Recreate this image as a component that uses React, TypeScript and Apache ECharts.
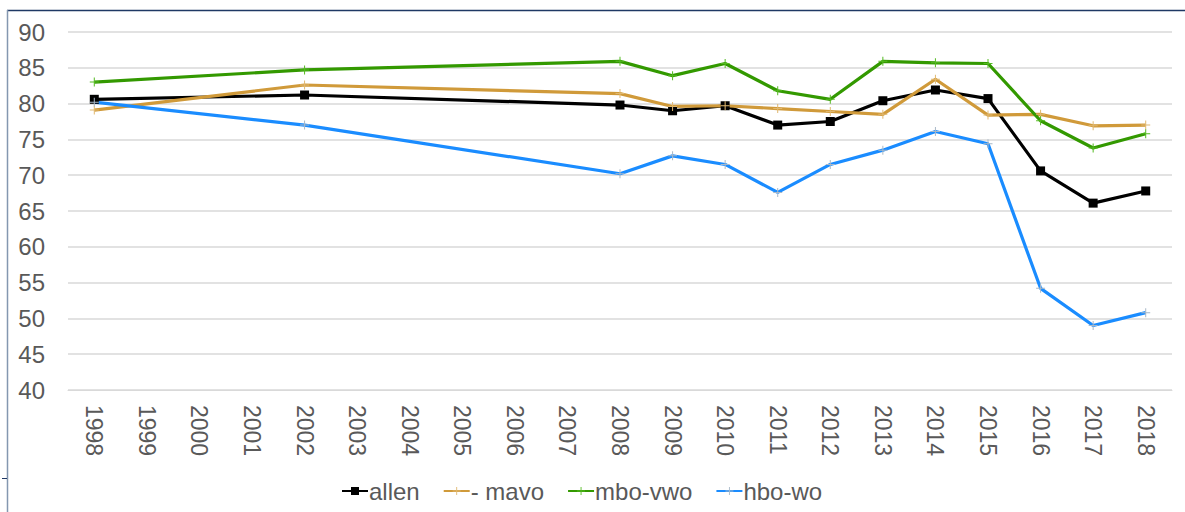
import React, { useEffect, useRef } from "react";
import * as echarts from "echarts";

const years = ["1998","1999","2000","2001","2002","2003","2004","2005","2006","2007","2008","2009","2010","2011","2012","2013","2014","2015","2016","2017","2018"];
const allen = [80.6, null, null, null, 81.2, null, null, null, null, null, 79.8, 79.0, 79.7, 77.0, 77.5, 80.4, 81.9, 80.7, 70.6, 66.1, 67.8];
const mavo = [79.1, null, null, null, 82.6, null, null, null, null, null, 81.4, 79.6, 79.7, 79.3, 78.9, 78.5, 83.4, 78.4, 78.5, 76.9, 77.0];
const mboVwo = [83.0, null, null, null, 84.7, null, null, null, null, null, 85.9, 83.9, 85.6, 81.8, 80.6, 85.9, 85.7, 85.6, 77.6, 73.8, 75.8];
const hboWo = [80.2, null, null, null, 77.0, null, null, null, null, null, 70.2, 72.7, 71.5, 67.6, 71.5, 73.5, 76.1, 74.4, 54.2, 49.0, 50.8];

const FONT = "'Liberation Sans', Arial, sans-serif";
const PLUS = "path://M4,0h1v9h-1z M0,4h9v1h-9z";

export default function App() {
  const ref = useRef<HTMLDivElement>(null);
  useEffect(() => {
    const chart = echarts.init(ref.current!, null, { renderer: "svg" });
    const mk = (name: string, data: any[], color: string, symbol: string, size: number, markColor: string) => ({
      name,
      type: "line",
      data,
      connectNulls: true,
      symbol,
      symbolSize: size,
      showSymbol: true,
      lineStyle: { color, width: 3.2 },
      itemStyle: { color: markColor, borderWidth: 0 },
      emphasis: { disabled: true },
    });
    chart.setOption({
      animation: false,
      textStyle: { fontFamily: FONT },
      grid: { left: 68, right: 13, top: 32, bottom: 122, containLabel: false },
      xAxis: {
        type: "category",
        data: years,
        boundaryGap: true,
        axisLine: { show: true, lineStyle: { color: "#d9d9d9" } },
        axisTick: { show: false },
        axisLabel: { rotate: -90, fontSize: 23, color: "#595959", fontFamily: FONT, margin: 15, interval: 0 },
      },
      yAxis: {
        type: "value",
        min: 40,
        max: 90,
        interval: 5,
        axisLine: { show: false },
        axisTick: { show: false },
        splitLine: { lineStyle: { color: "#d9d9d9", width: 1.5 } },
        axisLabel: { fontSize: 24, color: "#595959", fontFamily: FONT, margin: 23 },
      },
      legend: {
        bottom: 4,
        left: 336,
        itemWidth: 26,
        itemHeight: 10,
        itemGap: 23,
        textStyle: { fontSize: 24, color: "#595959", fontFamily: FONT, padding: [0, 0, 0, -4] },
        data: ["allen", "- mavo", "mbo-vwo", "hbo-wo"],
      },
      graphic: [
        { type: "line", shape: { x1: 7, y1: 10.5, x2: 1185, y2: 10.5 }, style: { stroke: "#1f3864", lineWidth: 1.5 } },
        { type: "line", shape: { x1: 7.5, y1: 10, x2: 7.5, y2: 512 }, style: { stroke: "#8497b0", lineWidth: 1.5 } },
        { type: "line", shape: { x1: 2, y1: 478.5, x2: 7, y2: 478.5 }, style: { stroke: "#1f3864", lineWidth: 1 } },
      ],
      series: [
        mk("allen", allen, "#000000", "rect", 9, "#000000"),
        mk("- mavo", mavo, "#d09a3a", PLUS, 9, "#e0b870"),
        mk("mbo-vwo", mboVwo, "#339900", PLUS, 9, "#55bb22"),
        mk("hbo-wo", hboWo, "#1a8cff", PLUS, 9, "#a8b8c8"),
      ],
    });
    return () => chart.dispose();
  }, []);
  return (
    <div
      ref={ref}
      style={{ position: "fixed", left: 0, top: 0, width: 1185, height: 512, background: "#fff" }}
    />
  );
}
